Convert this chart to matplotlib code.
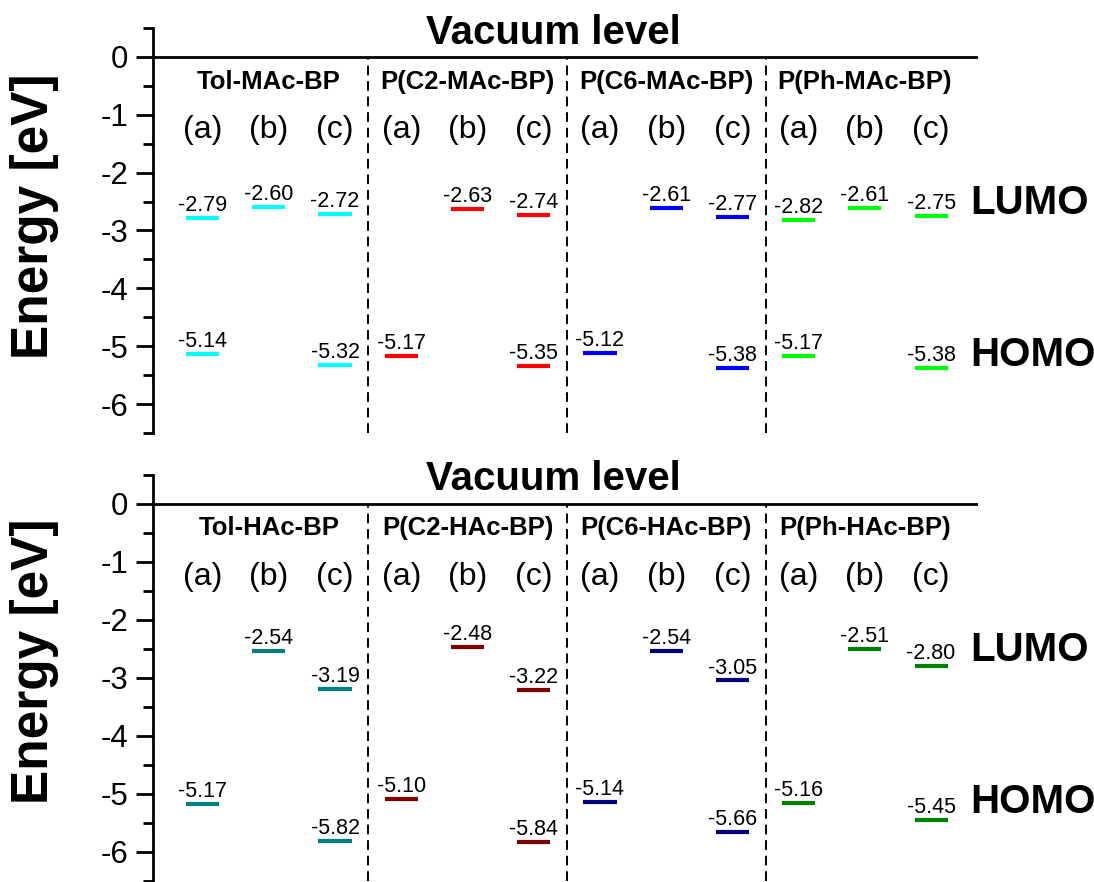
import matplotlib
matplotlib.use("Agg")
import matplotlib.pyplot as plt
import numpy as np

plt.rcParams['font.family'] = ['Liberation Sans', 'DejaVu Sans']
plt.rcParams['axes.unicode_minus'] = False

# Frontier orbital energies (eV); None = level not shown
groups_mac = ["Tol-MAc-BP", "P(C2-MAc-BP)", "P(C6-MAc-BP)", "P(Ph-MAc-BP)"]
lumo_mac = [[-2.79, -2.60, -2.72],
            [None, -2.63, -2.74],
            [None, -2.61, -2.77],
            [-2.82, -2.61, -2.75]]
homo_mac = [[-5.14, None, -5.32],
            [-5.17, None, -5.35],
            [-5.12, None, -5.38],
            [-5.17, None, -5.38]]
colors_mac = ["#00FFFF", "#FF0000", "#0000FF", "#00FF00"]

groups_hac = ["Tol-HAc-BP", "P(C2-HAc-BP)", "P(C6-HAc-BP)", "P(Ph-HAc-BP)"]
lumo_hac = [[None, -2.54, -3.19],
            [None, -2.48, -3.22],
            [None, -2.54, -3.05],
            [None, -2.51, -2.80]]
homo_hac = [[-5.17, None, -5.82],
            [-5.10, None, -5.84],
            [-5.14, None, -5.66],
            [-5.16, None, -5.45]]
colors_hac = ["#008080", "#800000", "#000080", "#008000"]

sub_labels = ["(a)", "(b)", "(c)"]


def draw_panel(ax, groups, lumo, homo, colors):
    ax.set_xlim(0.252, 12.71)
    ax.set_ylim(-6.5, 0.5)

    for side in ["top", "right", "bottom"]:
        ax.spines[side].set_visible(False)
    ax.spines["left"].set_linewidth(2)

    ax.set_xticks([])
    ax.set_yticks(np.arange(0, -7, -1))
    ax.set_yticks(np.arange(0.5, -7, -1), minor=True)
    ax.tick_params(axis="y", which="major", direction="out", length=12, width=2,
                   labelsize=22.5, pad=6)
    ax.tick_params(axis="y", which="minor", direction="out", length=7, width=2)

    # vacuum level and group separators
    ax.axhline(0, color="black", lw=2, zorder=3)
    ax.vlines([3.5, 6.5, 9.5], -6.5, 0, colors="black", lw=1.4,
              linestyles=(0, (5, 3)))
    ax.text(6.29, 0.42, "Vacuum level", fontsize=29, fontweight="bold",
            ha="center", va="center", clip_on=False)

    for g, name in enumerate(groups):
        xs = 3 * g + np.arange(1, 4)
        ax.text(xs[1], -0.43, name, fontsize=18.5, fontweight="bold",
                ha="center", va="center")
        for x, sub in zip(xs, sub_labels):
            ax.text(x, -1.27, sub, fontsize=23, ha="center", va="center")
        for levels in (lumo[g], homo[g]):
            for x, v in zip(xs, levels):
                if v is None:
                    continue
                ax.hlines(v, x - 0.25, x + 0.25, colors=colors[g], lw=3,
                          capstyle="butt")
                ax.text(x, v + 0.12, "%.2f" % v, fontsize=15.5,
                        ha="center", va="baseline")

    ax.text(12.59, -2.53, "LUMO", fontsize=29, fontweight="bold",
            ha="left", va="center", clip_on=False)
    ax.text(12.59, -5.15, "HOMO", fontsize=29, fontweight="bold",
            ha="left", va="center", clip_on=False)


fig = plt.figure(figsize=(10.94, 8.82), dpi=100)
ax1 = fig.add_axes([0.1399, 0.5091, 0.7542, 0.4592])
ax2 = fig.add_axes([0.1399, 0.0015, 0.7542, 0.4605])

draw_panel(ax1, groups_mac, lumo_mac, homo_mac, colors_mac)
draw_panel(ax2, groups_hac, lumo_hac, homo_hac, colors_hac)

fig.text(35 / 1094, 1 - 216 / 882, "Energy [eV]", fontsize=37, fontweight="bold",
         rotation=90, ha="center", va="center")
fig.text(35 / 1094, 1 - 661 / 882, "Energy [eV]", fontsize=37, fontweight="bold",
         rotation=90, ha="center", va="center")

fig.savefig("out.png", dpi=100)
